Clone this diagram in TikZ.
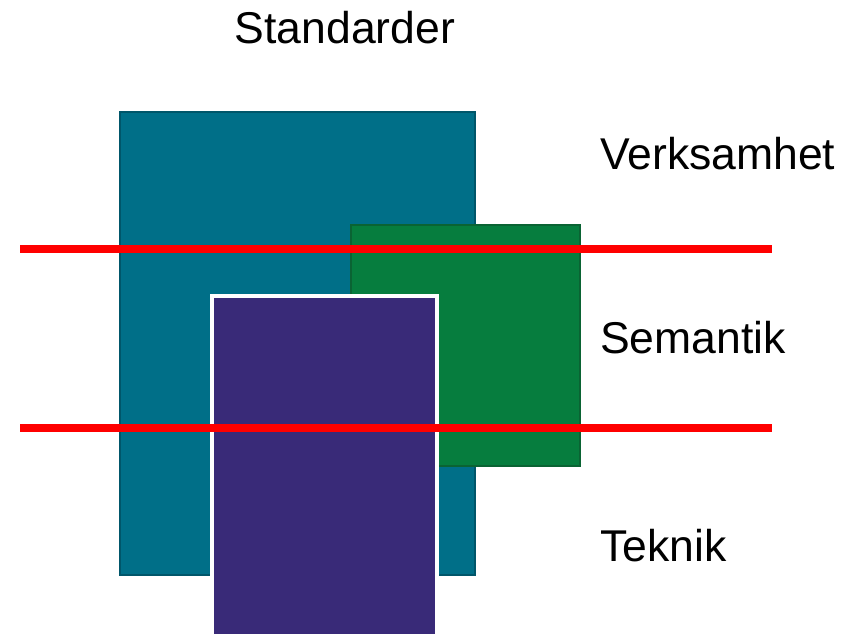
\documentclass[tikz,border=0pt]{standalone}
\usepackage{fontspec}
\setmainfont{Liberation Sans}
\definecolor{tealbox}{HTML}{006F88}
\definecolor{tealedge}{HTML}{00566A}
\definecolor{greenbox}{HTML}{067D3E}
\definecolor{greenedge}{HTML}{0A6333}
\definecolor{purplebox}{HTML}{392A78}
\tikzset{
  layerlabel/.style={anchor=base west, inner sep=0pt, font=\fontsize{38}{44}\selectfont},
  layerline/.style={red, line width=0.24cm},
}
\begin{document}
\begin{tikzpicture}[x=0.03cm, y=-0.03cm]
\useasboundingbox (0,0) rectangle (854,633);
\clip (0,0) rectangle (854,633);

\node[layerlabel, anchor=base] (title) at (345,43) {Standarder};

\draw[fill=tealbox, draw=tealedge, line width=0.06cm] (120,112) rectangle (475,575);
\draw[fill=greenbox, draw=greenedge, line width=0.06cm] (351,225) rectangle (580,466);
\draw[fill=purplebox, draw=white, line width=0.12cm] (212,296) rectangle (437,650);

\node[layerlabel] (verksamhet) at (600,169) {Verksamhet};
\node[layerlabel] (semantik) at (600,353) {Semantik};
\node[layerlabel] (teknik) at (600,561) {Teknik};

\coordinate (top west) at (20,249);
\coordinate (top east) at (772,249);
\coordinate (bottom west) at (20,428);
\coordinate (bottom east) at (772,428);
\draw[layerline] (top west) -- (top east);
\draw[layerline] (bottom west) -- (bottom east);
\end{tikzpicture}
\end{document}
